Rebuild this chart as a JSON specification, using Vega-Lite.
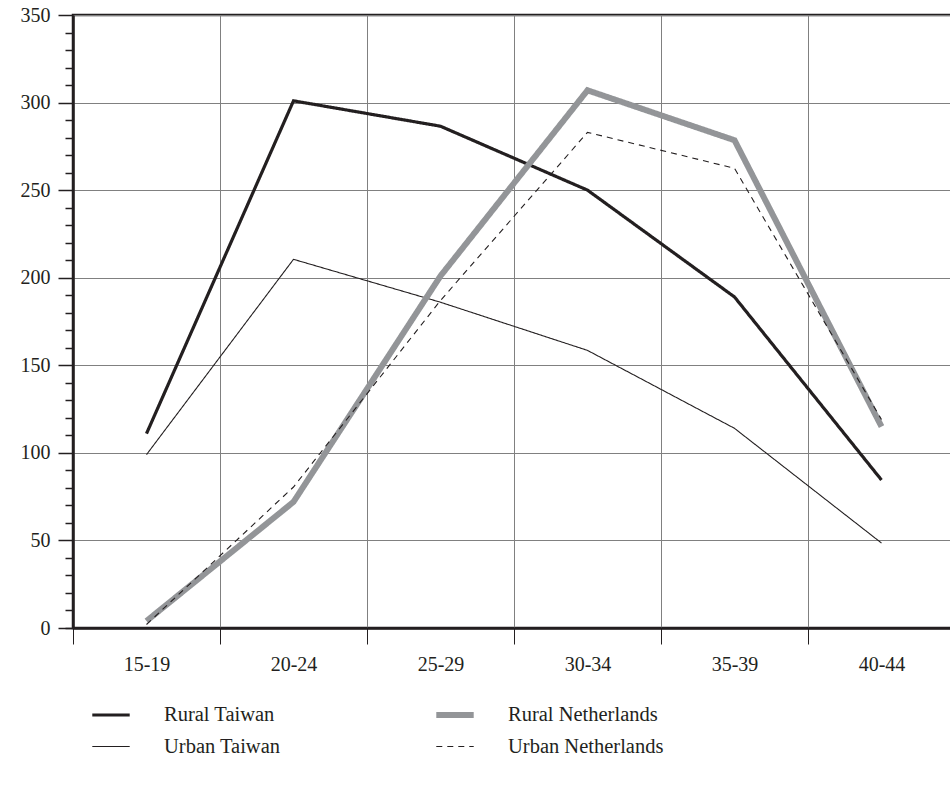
{
  "$schema": "https://vega.github.io/schema/vega-lite/v6.json",
  "autosize": "none",
  "width": 882,
  "height": 613,
  "padding": {"left": 73, "top": 15, "right": 0, "bottom": 157},
  "background": "white",
  "config": {
    "font": "Liberation Serif",
    "view": {"stroke": "#231f20", "strokeWidth": 2.5},
    "axis": {"labelFont": "Liberation Serif", "labelFontSize": 20, "labelColor": "#231f20", "domainColor": "#231f20", "tickColor": "#231f20", "gridColor": "#808080", "gridWidth": 1, "gridOpacity": 1}
  },
  "data": {
    "values": [
      {"age": "15-19", "series": "Rural Taiwan", "v": 111},
      {"age": "20-24", "series": "Rural Taiwan", "v": 301},
      {"age": "25-29", "series": "Rural Taiwan", "v": 286.5},
      {"age": "30-34", "series": "Rural Taiwan", "v": 250},
      {"age": "35-39", "series": "Rural Taiwan", "v": 189},
      {"age": "40-44", "series": "Rural Taiwan", "v": 84.5},
      {"age": "15-19", "series": "Urban Taiwan", "v": 99},
      {"age": "20-24", "series": "Urban Taiwan", "v": 210.5},
      {"age": "25-29", "series": "Urban Taiwan", "v": 186},
      {"age": "30-34", "series": "Urban Taiwan", "v": 158.5},
      {"age": "35-39", "series": "Urban Taiwan", "v": 114},
      {"age": "40-44", "series": "Urban Taiwan", "v": 48.5},
      {"age": "15-19", "series": "Rural Netherlands", "v": 4},
      {"age": "20-24", "series": "Rural Netherlands", "v": 72},
      {"age": "25-29", "series": "Rural Netherlands", "v": 201},
      {"age": "30-34", "series": "Rural Netherlands", "v": 307},
      {"age": "35-39", "series": "Rural Netherlands", "v": 278.5},
      {"age": "40-44", "series": "Rural Netherlands", "v": 115},
      {"age": "15-19", "series": "Urban Netherlands", "v": 2},
      {"age": "20-24", "series": "Urban Netherlands", "v": 80.5},
      {"age": "25-29", "series": "Urban Netherlands", "v": 187},
      {"age": "30-34", "series": "Urban Netherlands", "v": 283},
      {"age": "35-39", "series": "Urban Netherlands", "v": 262.5},
      {"age": "40-44", "series": "Urban Netherlands", "v": 119}
    ]
  },
  "resolve": {"axis": {"y": "independent"}},
  "layer": [
    {
      "mark": {"type": "line", "strokeCap": "butt", "strokeJoin": "miter"},
      "encoding": {
        "x": {
          "field": "age", "type": "ordinal", "bandPosition": 0.5,
          "scale": {"type": "band", "paddingInner": 0, "paddingOuter": 0},
          "axis": {"title": null, "labelAngle": 0, "tickBand": "extent", "grid": true, "tickSize": 16, "tickWidth": 1, "domainWidth": 2.5, "labelPadding": 10}
        },
        "y": {
          "field": "v", "type": "quantitative",
          "scale": {"domain": [0, 350], "nice": false, "zero": true},
          "axis": {"title": null, "values": [0, 50, 100, 150, 200, 250, 300, 350], "grid": true, "tickSize": 15, "tickWidth": 1.5, "domainWidth": 2.5, "labelPadding": 8}
        },
        "color": {
          "field": "series", "type": "nominal",
          "scale": {"domain": ["Rural Taiwan", "Rural Netherlands", "Urban Taiwan", "Urban Netherlands"], "range": ["#231f20", "#939598", "#231f20", "#231f20"]},
          "legend": {"title": null, "orient": "none", "direction": "horizontal", "legendX": 16, "legendY": 678, "columns": 2, "symbolType": "stroke", "symbolSize": 1400, "labelOffset": 31, "columnPadding": 143, "rowPadding": -3, "labelFontSize": 20.5, "labelColor": "#231f20", "labelFont": "Liberation Serif"}
        },
        "strokeWidth": {
          "field": "series", "type": "nominal",
          "scale": {"type": "ordinal", "domain": ["Rural Taiwan", "Rural Netherlands", "Urban Taiwan", "Urban Netherlands"], "range": [3.2, 6, 1.1, 1.1]}
        },
        "strokeDash": {
          "field": "series", "type": "nominal",
          "scale": {"domain": ["Rural Taiwan", "Rural Netherlands", "Urban Taiwan", "Urban Netherlands"], "range": [[1, 0], [1, 0], [1, 0], [6, 5]]}
        }
      }
    },
    {
      "mark": {"type": "rule", "opacity": 0},
      "encoding": {
        "y": {
          "datum": 0, "type": "quantitative",
          "scale": {"domain": [0, 350], "nice": false},
          "axis": {"orient": "left", "title": null, "values": [0, 10, 20, 30, 40, 60, 70, 80, 90, 110, 120, 130, 140, 160, 170, 180, 190, 210, 220, 230, 240, 260, 270, 280, 290, 310, 320, 330, 340], "labels": false, "grid": false, "domain": false, "tickSize": 8, "tickWidth": 1.5}
        }
      }
    }
  ]
}
